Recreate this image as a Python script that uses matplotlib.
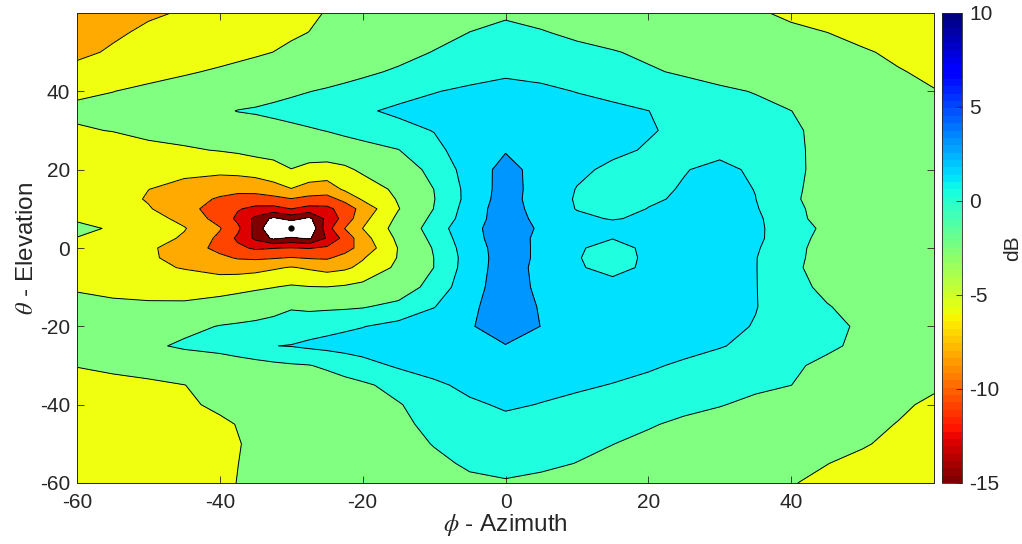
import numpy as np
import matplotlib
matplotlib.use("Agg")
import matplotlib.pyplot as plt
from matplotlib.colors import Normalize
from matplotlib.cm import ScalarMappable

plt.rcParams['font.family'] = ['Liberation Sans', 'DejaVu Sans']
plt.rcParams['mathtext.fontset'] = 'stix'
plt.rcParams['axes.unicode_minus'] = False

# ---- data: gain (dB) sampled on an azimuth x elevation grid ----
azimuth = [-60, -55, -50, -45, -40, -37.5, -35, -32.5, -30, -27.5, -25, -22.5, -20, -15, -10,
           -5, 0, 5, 10, 15, 20, 25, 30, 35, 40, 45, 50, 55, 60]
elevation = [-60, -55, -50, -45, -40, -35, -30, -25, -20, -15, -10, -5, -2.5, 0, 2.5, 5, 7.5,
             10, 12.5, 15, 20, 25, 30, 35, 40, 45, 50, 55, 60]

el_m60 = [-4.4, -4.1, -3.75, -3.3, -2.7, -2.48, -2.3, -2.1, -1.9, -1.7, -1.5, -1.3, -1.1, -0.75, -0.45, -0.2, -0.1, -0.25, -0.5, -0.8, -1.1, -1.4, -1.7, -2.0, -2.42, -2.85, -3.3, -3.7, -4.1]
el_m55 = [-4.2, -3.95, -3.6, -3.2, -2.75, -2.51, -2.3, -2.09, -1.89, -1.68, -1.47, -1.26, -1.06, -0.65, -0.23, 0.15, 0.35, 0.2, -0.02, -0.37, -0.72, -1.07, -1.42, -1.77, -2.12, -2.47, -2.9, -3.3, -3.7]
el_m50 = [-4.0, -3.75, -3.45, -3.15, -2.8, -2.55, -2.31, -2.08, -1.84, -1.6, -1.37, -1.14, -0.9, -0.43, 0.05, 0.4, 0.6, 0.4, 0.25, 0.02, -0.32, -0.66, -1.0, -1.34, -1.68, -2.02, -2.36, -2.9, -3.4]
el_m45 = [-3.7, -3.5, -3.3, -3.0, -2.7, -2.46, -2.22, -1.98, -1.74, -1.5, -1.26, -1.02, -0.78, -0.3, 0.35, 0.85, 1.1, 0.9, 0.7, 0.45, 0.12, -0.25, -0.63, -1.01, -1.39, -1.77, -2.15, -2.55, -3.0]
el_m40 = [-3.4, -3.3, -3.1, -2.7, -2.28, -2.06, -1.84, -1.62, -1.4, -1.18, -0.96, -0.74, -0.52, -0.08, 0.57, 1.25, 1.7, 1.45, 1.17, 0.9, 0.63, 0.35, 0.08, -0.35, -0.83, -1.3, -1.8, -2.28, -2.75]
el_m35 = [-3.0, -2.9, -2.8, -2.52, -2.05, -1.82, -1.59, -1.36, -1.13, -0.9, -0.67, -0.44, -0.21, 0.42, 1.2, 1.9, 2.1, 1.9, 1.7, 1.45, 1.16, 0.87, 0.58, 0.3, 0.01, -0.7, -1.3, -1.8, -2.3]
el_m30 = [-2.45, -2.2, -1.85, -1.4, -0.95, -0.73, -0.52, -0.32, -0.15, -0.05, 0.22, 0.59, 0.96, 1.7, 2.2, 2.5, 2.6, 2.45, 2.2, 1.95, 1.67, 1.31, 0.94, 0.58, 0.21, -0.3, -0.85, -1.35, -1.85]
el_m25 = [-2.0, -1.4, -0.35, 0.3, 0.6, 0.9, 1.2, 1.48, 1.55, 1.75, 1.9, 2.05, 2.2, 2.4, 2.6, 2.8, 2.95, 2.8, 2.55, 2.3, 2.1, 1.9, 1.58, 1.16, 0.7, 0.24, -0.3, -0.9, -1.5]
el_m20 = [-1.7, -1.5, -1.1, -0.5, 0.08, 0.25, 0.42, 0.6, 0.77, 0.94, 1.11, 1.28, 1.45, 1.93, 2.35, 2.9, 3.6, 2.98, 2.5, 2.2, 2.1, 2.0, 1.85, 1.43, 0.9, 0.36, -0.2, -0.9, -1.5]
el_m15 = [-1.9, -1.95, -2.0, -1.9, -1.5, -1.25, -1.0, -0.6, -0.15, -0.3, -0.25, -0.2, -0.1, 0.41, 1.45, 2.74, 3.7, 2.9, 2.3, 2.1, 2.05, 2.0, 1.95, 1.55, 0.82, 0.1, -0.6, -1.2, -1.7]
el_m10 = [-2.7, -3.2, -3.6, -3.9, -3.4, -3.1, -2.8, -2.55, -2.2, -2.4, -2.45, -2.2, -1.8, -0.9, 0.58, 2.47, 3.7, 2.7, 2.2, 2.2, 2.0, 2.0, 2.0, 1.55, 0.59, -0.4, -1.0, -1.5, -1.9]
el_m5 = [-3.5, -4.2, -4.65, -5.1, -5.9, -6.0, -5.8, -5.3, -4.85, -5.3, -5.8, -5.4, -4.43, -1.98, 0.02, 2.27, 3.7, 2.6, 1.7, 0.9, 1.85, 2.0, 2.0, 1.55, 0.4, -0.8, -1.35, -1.8, -2.2]
el_m2_5 = [-3.3, -4.0, -4.7, -5.67, -7.0, -7.7, -7.9, -7.7, -7.4, -7.7, -7.8, -6.75, -5.2, -2.36, 0.02, 2.2, 3.7, 2.7, 1.6, 0.8, 1.8, 2.0, 2.0, 1.55, 0.5, -0.75, -1.3, -1.75, -2.15]
el_0 = [-2.9, -3.7, -4.6, -6.14, -8.19, -9.4, -10.4, -10.1, -9.9, -10.15, -9.6, -8.4, -6.63, -2.4, 0.17, 2.3, 3.7, 2.7, 1.7, 0.9, 1.85, 2.0, 2.0, 1.65, 0.55, -0.7, -1.25, -1.7, -2.1]
el_p2_5 = [-2.55, -3.0, -3.8, -5.34, -8.0, -10.48, -13.0, -15.5, -14.6, -15.4, -12.24, -9.09, -5.97, -1.97, 0.53, 2.39, 3.9, 2.6, 1.8, 1.55, 1.85, 1.95, 1.95, 1.8, 0.62, -0.5, -1.1, -1.55, -2.0]
el_p5 = [-2.1, -2.67, -3.75, -4.83, -7.33, -9.46, -13.3, -17.5, -19.0, -17.5, -11.0, -7.45, -4.98, -1.49, 0.85, 2.45, 4.0, 2.75, 2.2, 2.0, 2.0, 2.0, 2.0, 1.75, 0.8, -0.35, -1.0, -1.5, -2.0]
el_p7_5 = [-2.7, -3.1, -4.0, -5.7, -8.44, -10.5, -13.1, -15.6, -14.0, -15.6, -11.77, -9.05, -5.74, -1.98, 0.47, 2.2, 3.9, 2.5, 1.75, 1.42, 1.7, 1.8, 1.95, 1.75, 0.6, -0.7, -1.2, -1.6, -2.05]
el_p10 = [-3.0, -3.9, -4.8, -6.59, -8.68, -9.8, -10.6, -10.8, -9.98, -10.8, -10.6, -8.97, -6.6, -2.6, 0.05, 2.2, 3.8, 2.3, 1.45, 1.05, 1.53, 1.75, 1.9, 1.62, 0.4, -0.6, -1.1, -1.55, -2.0]
el_p12_5 = [-3.3, -4.0, -5.2, -6.4, -7.8, -8.4, -8.6, -8.2, -7.6, -8.2, -8.4, -6.76, -4.71, -2.3, -0.05, 2.0, 3.7, 2.2, 1.4, 1.1, 1.35, 1.65, 1.85, 1.52, 0.2, -0.55, -1.05, -1.5, -1.95]
el_p15 = [-3.6, -4.2, -4.98, -5.6, -6.6, -6.8, -6.6, -6.0, -5.1, -6.0, -6.2, -4.65, -3.8, -1.98, 0.02, 2.0, 3.6, 2.39, 1.45, 1.15, 1.2, 1.6, 1.9, 1.47, 0.24, -0.5, -1.0, -1.45, -1.9]
el_p20 = [-3.9, -4.0, -4.3, -4.5, -4.4, -4.2, -3.9, -3.3, -2.55, -3.2, -3.5, -3.0, -2.07, -0.88, 0.45, 2.14, 3.5, 2.44, 1.75, 1.25, 1.12, 1.44, 1.8, 1.3, 0.28, -0.4, -0.9, -1.35, -1.8]
el_p25 = [-3.5, -3.3, -3.0, -2.75, -2.39, -2.15, -1.75, -1.68, -1.45, -1.21, -0.98, -0.74, -0.51, -0.04, 1.1, 2.3, 2.9, 2.5, 2.1, 1.75, 1.39, 1.08, 1.2, 0.7, 0.2, -0.3, -0.8, -1.3, -1.8]
el_p30 = [-2.65, -2.45, -2.0, -1.64, -1.2, -0.99, -0.78, -0.58, -0.37, -0.16, 0.05, 0.31, 0.56, 1.06, 1.55, 2.1, 2.5, 2.3, 2.05, 1.85, 1.6, 1.24, 0.88, 0.52, 0.16, -0.3, -0.8, -1.3, -1.8]
el_p35 = [-2.2, -1.85, -1.5, -1.05, -0.3, 0.05, 0.17, 0.36, 0.55, 0.74, 0.93, 1.12, 1.32, 1.75, 2.1, 2.4, 2.6, 2.4, 2.1, 1.8, 1.51, 1.13, 0.76, 0.38, 0.01, -0.5, -1.0, -1.5, -2.0]
el_p40 = [-2.75, -2.53, -2.07, -1.62, -1.16, -0.94, -0.71, -0.48, -0.25, -0.03, 0.17, 0.39, 0.6, 1.02, 1.43, 1.8, 2.1, 1.85, 1.45, 1.15, 0.85, 0.55, 0.25, -0.07, -0.57, -1.05, -1.53, -2.0, -2.45]
el_p45 = [-4.4, -3.6, -3.17, -2.72, -2.25, -2.0, -1.76, -1.51, -1.27, -1.02, -0.77, -0.53, -0.28, 0.2, 0.55, 0.85, 1.2, 1.0, 0.75, 0.45, 0.15, -0.17, -0.55, -0.92, -1.3, -1.67, -2.04, -2.42, -2.75]
el_p50 = [-5.45, -4.76, -4.25, -3.75, -3.25, -3.0, -2.75, -2.49, -2.2, -1.92, -1.64, -1.36, -1.07, -0.51, 0.06, 0.45, 0.75, 0.55, 0.3, 0.08, -0.24, -0.59, -0.95, -1.3, -1.65, -2.0, -2.36, -2.75, -3.1]
el_p55 = [-6.0, -5.3, -4.66, -4.18, -3.69, -3.45, -3.2, -2.96, -2.72, -2.48, -2.2, -1.92, -1.64, -1.09, -0.53, 0.02, 0.35, 0.08, -0.23, -0.55, -0.87, -1.2, -1.52, -1.85, -2.17, -2.49, -2.9, -3.3, -3.7]
el_p60 = [-6.5, -5.8, -5.25, -4.85, -4.3, -4.0, -3.7, -3.4, -3.1, -2.8, -2.4, -2.1, -1.9, -1.5, -1.0, -0.5, -0.2, -0.4, -0.7, -1.0, -1.3, -1.6, -2.0, -2.3, -2.8, -3.2, -3.6, -4.0, -4.4]

contour_levels = [-15, -12.5, -10, -7.5, -5, -2.5, 0, 1.5, 3, 10]
band_colors = ['#800000', '#DE0000', '#FF4400', '#FFAA00', '#F0FF10',
               '#80FF80', '#1FFFDF', '#00E0FF', '#0096FF']
cbar_ticks = [-15, -10, -5, 0, 5, 10]
x_ticks = [-60, -40, -20, 0, 20, 40]
y_ticks = [-60, -40, -20, 0, 20, 40]

rows = [el_m60, el_m55, el_m50, el_m45, el_m40, el_m35, el_m30, el_m25, el_m20, el_m15,
        el_m10, el_m5, el_m2_5, el_0, el_p2_5, el_p5, el_p7_5, el_p10, el_p12_5, el_p15,
        el_p20, el_p25, el_p30, el_p35, el_p40, el_p45, el_p50, el_p55, el_p60]
Z = np.array(rows, dtype=float)
X = np.array(azimuth, dtype=float)
Y = np.array(elevation, dtype=float)

W, H = 1022, 544
fig = plt.figure(figsize=(W / 100, H / 100), dpi=100)
ax = fig.add_axes([77 / W, 1 - 483 / H, (934 - 77) / W, 470 / H])
cax = fig.add_axes([942 / W, 1 - 483 / H, 20 / W, 470 / H])

ax.contourf(X, Y, Z, levels=contour_levels, colors=band_colors)
ax.contour(X, Y, Z, levels=contour_levels[:-1], colors='k', linewidths=0.7,
           negative_linestyles='solid')

# marker at the null (minimum of the grid)
iy, ix = np.unravel_index(np.argmin(Z), Z.shape)
ax.plot(X[ix], Y[iy], 'o', color='k', ms=3.5)

ax.set_xlim(-60, 60)
ax.set_ylim(-60, 60)
ax.set_xticks(x_ticks)
ax.set_yticks(y_ticks)
edge = '#262626'
ax.tick_params(direction='in', length=5, width=0.6, top=True, right=True,
               labelsize=15, colors=edge)
ax.tick_params(axis='x', pad=7)
ax.tick_params(axis='y', pad=5)
for s in ax.spines.values():
    s.set_color(edge)
    s.set_linewidth(0.7)
ax.set_xlabel(r'$\phi$ - Azimuth', fontsize=17.5, color=edge, labelpad=0)
ax.set_ylabel(r'$\theta$ - Elevation', fontsize=17.5, color=edge, labelpad=1)

cmap = plt.get_cmap('jet', 64).reversed()
sm = ScalarMappable(norm=Normalize(-15, 10), cmap=cmap)
cb = fig.colorbar(sm, cax=cax, ticks=cbar_ticks)
cb.ax.tick_params(direction='in', length=4, width=0.6, labelsize=15, colors=edge, pad=5)
cb.outline.set_edgecolor(edge)
cb.outline.set_linewidth(0.6)
cb.set_label('dB', fontsize=15, color=edge, labelpad=3)

fig.savefig('out.png', dpi=100)
